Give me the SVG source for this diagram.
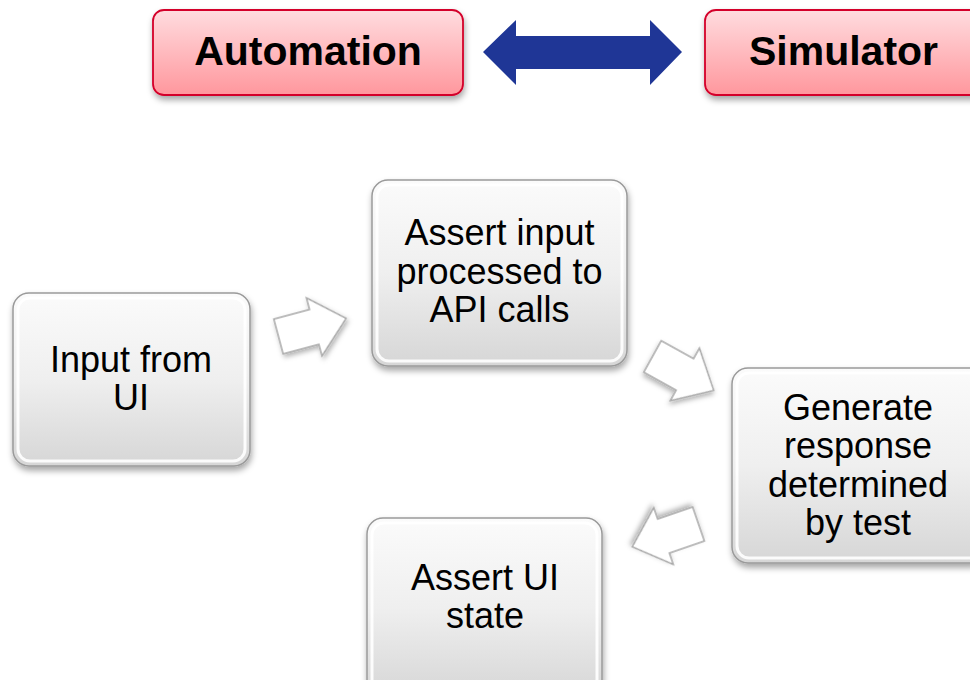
<svg xmlns="http://www.w3.org/2000/svg" width="970" height="680" viewBox="0 0 970 680">
<defs>
<linearGradient id="gGrey" x1="0" y1="0" x2="0" y2="1">
<stop offset="0" stop-color="#fbfbfb"/>
<stop offset="0.5" stop-color="#efefef"/>
<stop offset="1" stop-color="#d6d6d6"/>
</linearGradient>
<linearGradient id="gRed" x1="0" y1="0" x2="0" y2="1">
<stop offset="0" stop-color="#ffdcdf"/>
<stop offset="1" stop-color="#ff979d"/>
</linearGradient>
<filter id="shadow" x="-20%" y="-20%" width="140%" height="150%">
<feDropShadow dx="1" dy="4" stdDeviation="3" flood-color="#000" flood-opacity="0.35"/>
</filter>
<filter id="ashadow" x="-30%" y="-30%" width="160%" height="160%">
<feDropShadow dx="1" dy="3" stdDeviation="2.5" flood-color="#000" flood-opacity="0.3"/>
</filter>
<path id="flow" d="M0,-18 L37,-18 L37,-30 L70,0 L37,30 L37,18 L0,18 Z"/>
</defs>
<style>
.red{fill:url(#gRed);stroke:#d4002a;stroke-width:1.8;filter:url(#shadow)}
.grey{fill:url(#gGrey);stroke:#9a9a9a;stroke-width:1.5;filter:url(#shadow)}
.bevel{fill:none;stroke:#ffffff;stroke-width:3;opacity:0.9}
.lbl{font-family:"Liberation Sans",Arial,sans-serif;font-weight:bold;font-size:41px;fill:#000;text-anchor:middle}
.txt{font-family:"Liberation Sans",Arial,sans-serif;font-size:36px;fill:#000;text-anchor:middle}
.flow{fill:#ffffff;stroke:#a8a8a8;stroke-width:1.5;filter:url(#ashadow)}
</style>
<rect width="970" height="680" fill="#ffffff"/>

<g id="automation">
<rect class="red" x="153" y="10" width="310" height="85" rx="11"/>
<text class="lbl" x="308" y="65">Automation</text>
</g>

<g id="simulator">
<rect class="red" x="705" y="10" width="280" height="85" rx="11"/>
<text class="lbl" x="843.5" y="65">Simulator</text>
</g>

<g id="input-from-ui">
<rect class="grey" x="13" y="293" width="237" height="173" rx="16"/>
<rect class="bevel" x="18" y="298" width="227" height="163" rx="12"/>
<text class="txt" x="131" y="372">Input from</text>
<text class="txt" x="131" y="410">UI</text>
</g>

<g id="assert-input">
<rect class="grey" x="372" y="180" width="255" height="186" rx="16"/>
<rect class="bevel" x="377" y="185" width="245" height="176" rx="12"/>
<text class="txt" x="499.5" y="245">Assert input</text>
<text class="txt" x="499.5" y="284">processed to</text>
<text class="txt" x="499.5" y="322">API calls</text>
</g>

<g id="generate-response">
<rect class="grey" x="732" y="368" width="255" height="195" rx="16"/>
<rect class="bevel" x="737" y="373" width="245" height="185" rx="12"/>
<text class="txt" x="858" y="420">Generate</text>
<text class="txt" x="858" y="458">response</text>
<text class="txt" x="858" y="497">determined</text>
<text class="txt" x="858" y="535">by test</text>
</g>

<g id="assert-ui-state">
<rect class="grey" x="367" y="518" width="235" height="180" rx="16"/>
<rect class="bevel" x="372" y="523" width="225" height="170" rx="12"/>
<text class="txt" x="485" y="590">Assert UI</text>
<text class="txt" x="485" y="628">state</text>
</g>

<g id="connectors">
<polygon fill="#1f3696" points="483,52 516,20 516,36 650,36 650,20 682,52 650,85 650,69 516,69 516,85"/>
<use href="#flow" class="flow" transform="translate(278.5,336.5) rotate(-15)"/>
<use href="#flow" class="flow" transform="translate(652.5,356.5) rotate(29)"/>
<use href="#flow" class="flow" transform="translate(698.5,524) rotate(161)"/>
</g>
</svg>
